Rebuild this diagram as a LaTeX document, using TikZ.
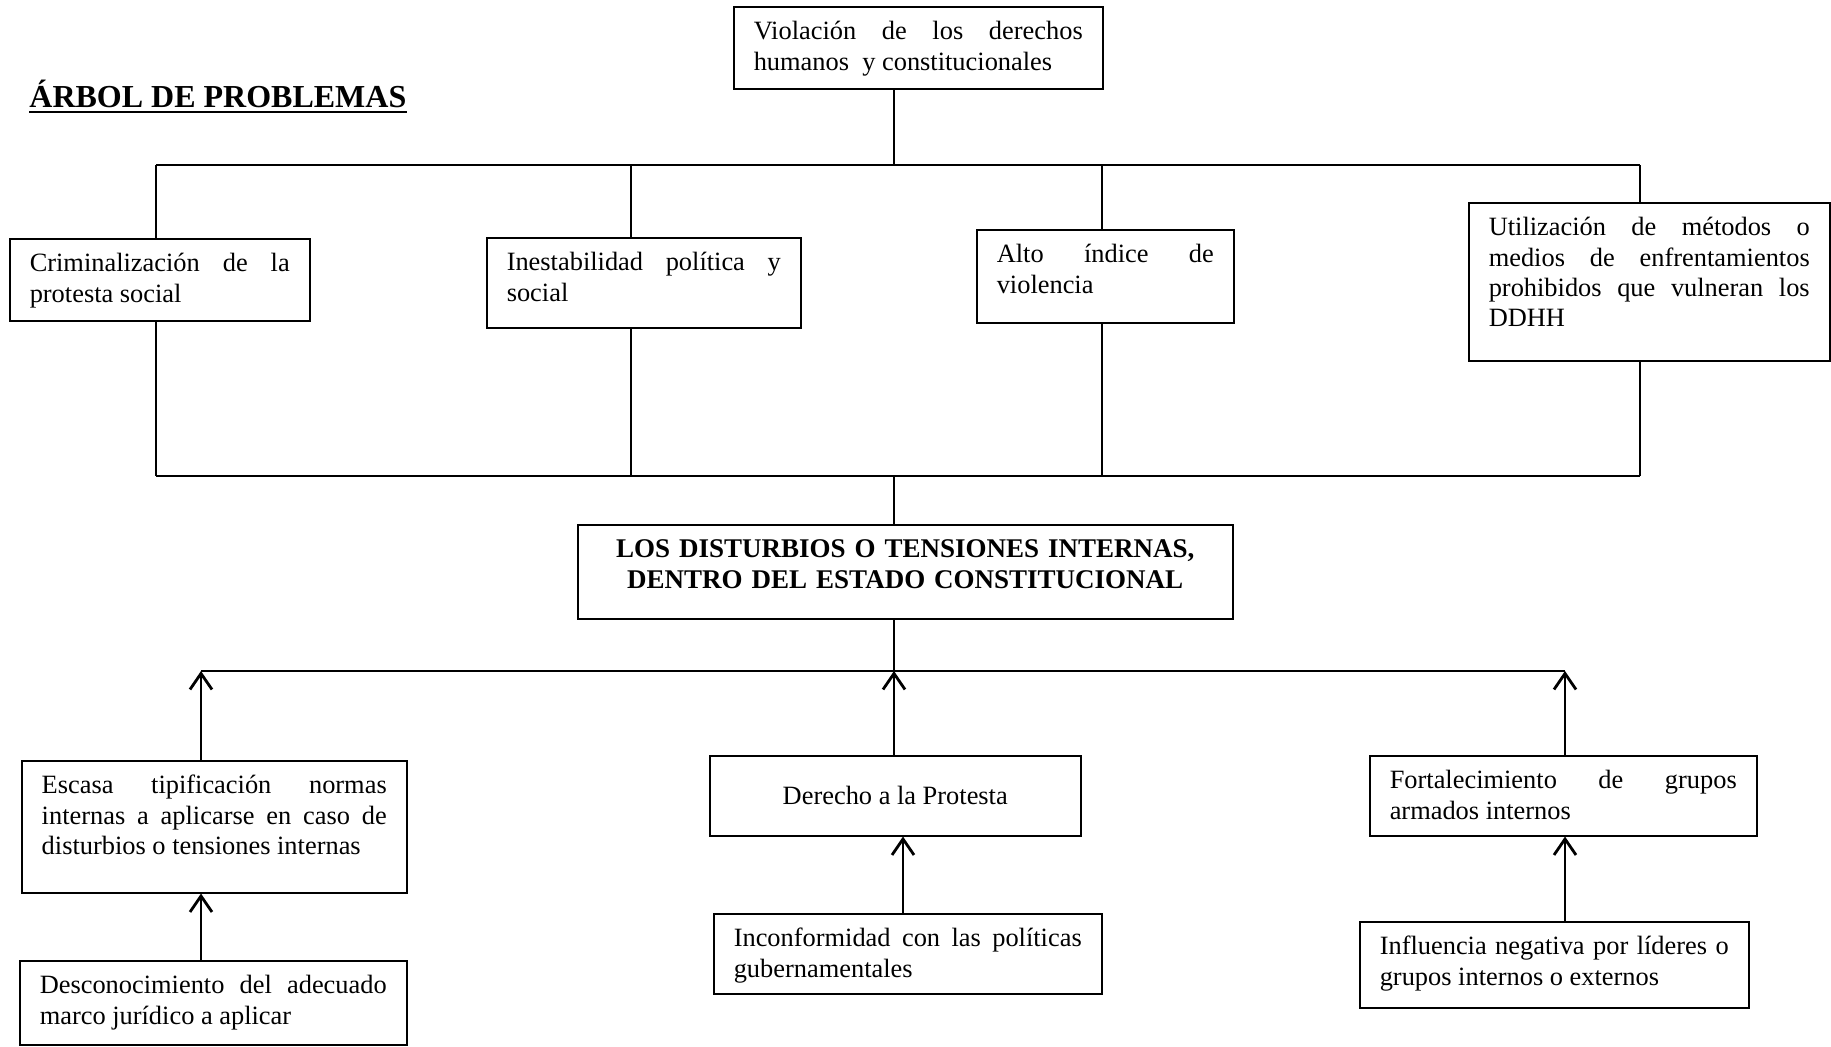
\documentclass[tikz,border=0pt]{standalone}
\usepackage{fontspec}
\setmainfont{Liberation Serif}
\usetikzlibrary{arrows.meta}
\tolerance=10000
\hbadness=10000
\hyphenpenalty=10000
\exhyphenpenalty=10000
\newcommand{\bodyfont}{\fontsize{13.2}{15.2}\selectfont}
\tikzset{
  frame/.style n args={2}{draw, line width=0.75pt, inner sep=0pt, anchor=north west,
    minimum width=#1, minimum height=#2},
  boxtext/.style={inner sep=0pt, text width=#1, align=justify, anchor=north, font=\bodyfont},
  link/.style={line width=0.9pt},
  bus/.style={line width=1.2pt},
  up/.style={line width=1.4pt, -{Straight Barb[length=8pt,width=11pt]}},
}
\begin{document}
\begin{tikzpicture}[x=0.5pt, y=-0.5pt]
\useasboundingbox (0,0) rectangle (1831,1046);

% title
\node[inner sep=0pt, anchor=base west, font=\fontsize{16}{19}\selectfont\bfseries] (title) at (29,107) {ÁRBOL DE PROBLEMAS};
\draw[line width=1.2pt] ([yshift=-2.6pt]title.base west) -- ([yshift=-2.6pt]title.base east);

% effects
\node[frame={184.5pt}{41pt}] (top) at (733,6) {};
\node[boxtext=164.5pt] (topT) at ([yshift=-6pt]top.north) {\strut Violación de los derechos\linebreak humanos\ \ y constitucionales};

\node[frame={150pt}{41pt}] (crim) at (9,238) {};
\node[boxtext=130pt] (crimT) at ([yshift=-6pt]crim.north) {\strut Criminalización de la\linebreak protesta social};

\node[frame={157pt}{45pt}] (inest) at (486,237) {};
\node[boxtext=137pt] (inestT) at ([yshift=-6pt]inest.north) {\strut Inestabilidad política y\linebreak social};

\node[frame={128.5pt}{46.5pt}] (alto) at (976,229) {};
\node[boxtext=108.5pt] (altoT) at ([yshift=-6pt]alto.north) {\strut Alto índice de\linebreak violencia};

\node[frame={180.5pt}{79pt}] (util) at (1468,202) {};
\node[boxtext=160.5pt] (utilT) at ([yshift=-6pt]util.north) {\strut Utilización de métodos o\linebreak medios de enfrentamientos\linebreak prohibidos que vulneran los\linebreak DDHH};

% central problem
\node[frame={327.5pt}{47pt}] (core) at (577,524) {};
\node[boxtext=310pt, align=center, font=\fontsize{13.5}{15.2}\selectfont\bfseries] (coreT) at ([yshift=-6pt]core.north) {\strut LOS DISTURBIOS O TENSIONES INTERNAS,\\ DENTRO DEL ESTADO CONSTITUCIONAL};

% causes
\node[frame={192.5pt}{66pt}] (escasa) at (21,760) {};
\node[boxtext=172.5pt] (escasaT) at ([yshift=-6pt]escasa.north) {\strut Escasa tipificación normas\linebreak internas a aplicarse en caso de\linebreak disturbios o tensiones internas};

\node[frame={185.5pt}{40pt}] (derecho) at (709,755) {};
\node[inner sep=0pt, font=\bodyfont] (derechoT) at (derecho.center) {Derecho a la Protesta};

\node[frame={193.5pt}{40pt}] (fort) at (1369,755) {};
\node[boxtext=173.5pt] (fortT) at ([yshift=-6pt]fort.north) {\strut Fortalecimiento de grupos\linebreak armados internos};

\node[frame={193.5pt}{42pt}] (desc) at (19,960) {};
\node[boxtext=173.5pt] (descT) at ([yshift=-6pt]desc.north) {\strut Desconocimiento del adecuado\linebreak marco jurídico a aplicar};

\node[frame={194pt}{40pt}] (inconf) at (713,913) {};
\node[boxtext=174pt] (inconfT) at ([yshift=-6pt]inconf.north) {\strut Inconformidad con las políticas\linebreak gubernamentales};

\node[frame={194.5pt}{43pt}] (influ) at (1359,921) {};
\node[boxtext=174.5pt] (influT) at ([yshift=-6pt]influ.north) {\strut Influencia negativa por líderes o\linebreak grupos internos o externos};

% upper tree
\coordinate (ub1) at (156,165);
\coordinate (ub2) at (631,165);
\coordinate (ub3) at (1102,165);
\coordinate (ub4) at (1640,165);
\coordinate (hub1) at (894,165);
\coordinate (lb1) at (156,476);
\coordinate (lb2) at (631,476);
\coordinate (lb3) at (1102,476);
\coordinate (lb4) at (1640,476);
\coordinate (hub2) at (894,476);

\draw[link] (hub1 |- top.south) -- (hub1);
\draw[bus] (ub1) -- (ub4);
\draw[link] (ub1) -- (ub1 |- crim.north);
\draw[link] (ub2) -- (ub2 |- inest.north);
\draw[link] (ub3) -- (ub3 |- alto.north);
\draw[link] (ub4) -- (ub4 |- util.north);
\draw[link] (lb1 |- crim.south) -- (lb1);
\draw[link] (lb2 |- inest.south) -- (lb2);
\draw[link] (lb3 |- alto.south) -- (lb3);
\draw[link] (lb4 |- util.south) -- (lb4);
\draw[bus] (lb1) -- (lb4);
\draw[link] (hub2) -- (hub2 |- core.north);

% lower tree
\coordinate (db1) at (201,671);
\coordinate (db3) at (1565,671);
\coordinate (hub3) at (894,671);
\coordinate (ic) at (903,900);

\draw[link] (hub3 |- core.south) -- (hub3);
\draw[bus] (db1) -- (db3);
\draw[up] (db1 |- escasa.north) -- (db1);
\draw[up] (hub3 |- derecho.north) -- (hub3);
\draw[up] (db3 |- fort.north) -- (db3);
\draw[up] (db1 |- desc.north) -- (db1 |- escasa.south);
\draw[up] (ic |- inconf.north) -- (ic |- derecho.south);
\draw[up] (db3 |- influ.north) -- (db3 |- fort.south);
\end{tikzpicture}
\end{document}
